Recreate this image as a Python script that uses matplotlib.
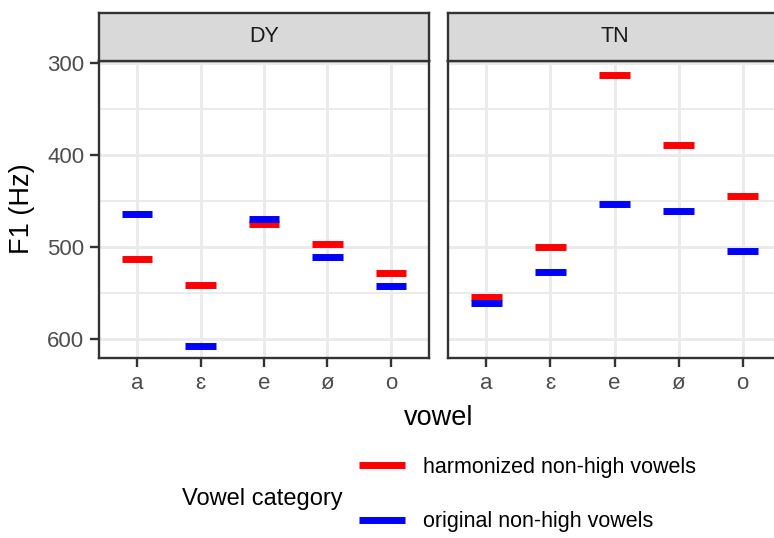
import numpy as np
import matplotlib
matplotlib.use("Agg")
import matplotlib.pyplot as plt
from matplotlib.lines import Line2D
from matplotlib.ticker import MultipleLocator

plt.rcParams['font.family'] = ['Liberation Sans', 'DejaVu Sans']

# values (F1 in Hz)
vowels = ['a', 'ɛ', 'e', 'ø', 'o']
dialects = ['DY', 'TN']
harmonized = {'DY': [513, 542, 475, 497, 529],
              'TN': [555, 500, 313, 389, 445]}
original = {'DY': [464, 608, 470, 511, 543],
            'TN': [561, 528, 453, 461, 505]}
categories = ['harmonized non-high vowels', 'original non-high vowels']
colors = ['#ff0000', '#0000ff']

W, H = 774, 538
fig = plt.figure(figsize=(W / 100, H / 100), dpi=100)

def px(x, y, w, h):
    # pixel box (top-left origin) -> figure fraction
    return [x / W, 1 - (y + h) / H, w / W, h / H]

panel_left = [99, 448]
panel_w = [330, 333]
frame_col = '#333333'
grid_col = '#ebebeb'

xs = np.arange(len(vowels))
for i, d in enumerate(dialects):
    ax = fig.add_axes(px(panel_left[i], 61, panel_w[i], 297))
    ax.set_xlim(-0.6, len(vowels) - 0.4)
    ax.set_ylim(621, 298)
    ax.yaxis.set_major_locator(MultipleLocator(100))
    ax.yaxis.set_minor_locator(MultipleLocator(50))
    ax.set_xticks(xs)
    ax.set_xticklabels(vowels)
    ax.grid(which='major', color=grid_col, lw=2.1, zorder=0)
    ax.grid(which='minor', axis='y', color=grid_col, lw=1.4, zorder=0)
    ax.set_axisbelow(True)
    for s in ax.spines.values():
        s.set_color(frame_col)
        s.set_linewidth(1.7)
    ax.tick_params(which='major', length=6.5, width=1.7, color=frame_col,
                   labelsize=16, labelcolor='#4d4d4d', pad=4)
    ax.tick_params(which='minor', length=0)
    if i > 0:
        ax.tick_params(axis='y', which='both', left=False, labelleft=False)

    for vals, c in zip([harmonized[d], original[d]], colors):
        ax.hlines(vals, xs - 0.24, xs + 0.24, colors=c, lw=5,
                  capstyle='butt', zorder=3)

    sx = fig.add_axes(px(panel_left[i], 13, panel_w[i], 48))
    sx.set_facecolor('#d9d9d9')
    sx.set_xticks([])
    sx.set_yticks([])
    for s in sx.spines.values():
        s.set_color(frame_col)
        s.set_linewidth(1.7)
    sx.text(0.5, 0.5, d, ha='center', va='center', fontsize=15.5,
            color='#1a1a1a', transform=sx.transAxes)

fig.text(22 / W, 1 - 209 / H, 'F1 (Hz)', rotation=90, ha='center',
         va='center', fontsize=19.5)
fig.text(439 / W, 1 - 425 / H, 'vowel', ha='center', va='baseline',
         fontsize=19.5)

handles = [Line2D([], [], color=c, lw=5, solid_capstyle='butt') for c in colors]
fig.legend(handles, categories, loc='upper left',
           bbox_to_anchor=(359 / W, 1 - 457 / H), frameon=False,
           fontsize=15.5, handlelength=2.14, handletextpad=0.84,
           labelspacing=1.55, borderpad=0, borderaxespad=0)
fig.text(182 / W, 1 - 499 / H, 'Vowel category', ha='left', va='center',
         fontsize=17)

fig.savefig('out.png', dpi=100)
